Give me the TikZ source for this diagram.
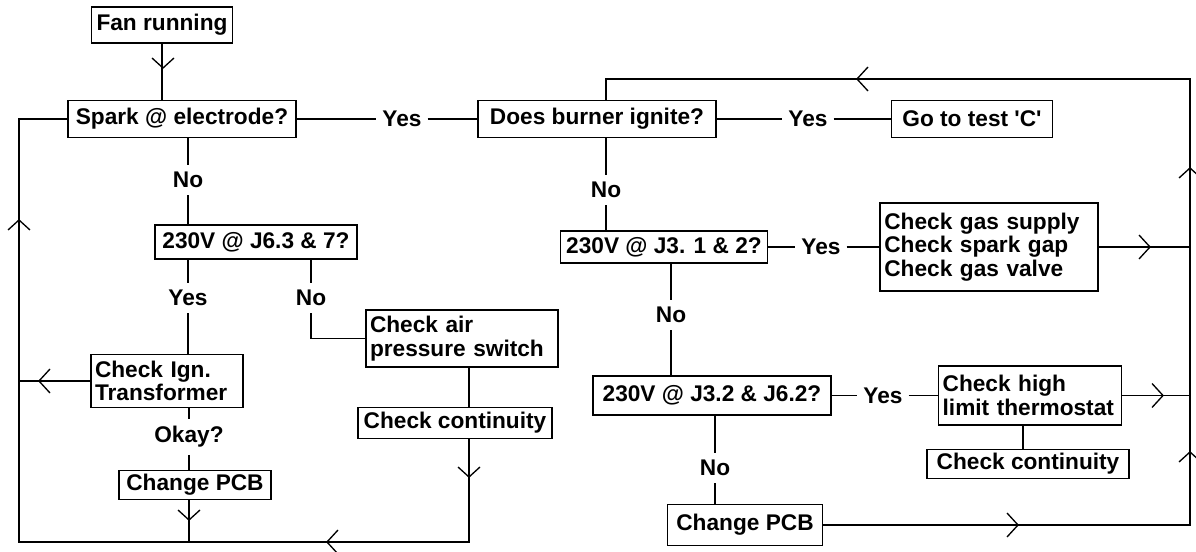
\documentclass[tikz,border=0pt]{standalone}
\usepackage{fontspec}
\setmainfont{Liberation Sans}[Ligatures=TeXOff]
\begin{document}
\begin{tikzpicture}[x=0.75pt,y=-0.75pt,line width=1pt,
  txt/.style={font=\bfseries\fontsize{17}{17.5}\selectfont},
  box/.style 2 args={draw,txt,inner sep=0pt,minimum width=#1*0.75pt,minimum height=#2*0.75pt},
  lbl/.style={txt,inner xsep=4pt,inner ysep=5pt},
  chevD/.pic={\draw (-11,-10) -- (0,0) -- (11,-10);},
  chevU/.pic={\draw (-11,10) -- (0,0) -- (11,10);},
  chevL/.pic={\draw (11,-12) -- (0,0) -- (11,12);},
  chevR/.pic={\draw (-11,-12) -- (0,0) -- (-11,12);}]
\fill[white] (0,0) rectangle (1196,552);
\useasboundingbox (0,0) rectangle (1196,552);

% boxes
\node[box={141}{36}] (fan) at (162,25) {Fan running};
\node[box={228}{37}] (spark) at (182,119) {Spark @ electrode?};
\node[box={202}{34}] (j63) at (256,242) {230V @ J6.3 \& 7?};
\node[box={152}{53},text width=108pt,align=left] (ign) at (167,381) {Check Ign.\\Transformer};
\node[box={152}{29}] (pcb1) at (195,485) {Change PCB};
\node[box={192}{57},text width=138pt,align=left] (air) at (462,338.5) {Check air\\pressure switch};
\node[box={194}{31}] (cont1) at (455,423) {Check continuity};
\node[box={238}{37}] (burner) at (597,119) {Does burner ignite?};
\node[box={161}{37}] (goto) at (972,119) {Go to test 'C'};
\node[box={207}{32}] (j31) at (664,247) {230V @ J3. 1 \& 2?};
\node[box={218}{88},text width=157pt,align=left] (gas) at (989,247) {Check gas supply\\Check spark gap\\Check gas valve};
\node[box={238}{39}] (j32) at (712,395.5) {230V @ J3.2 \& J6.2?};
\node[box={183}{59},text width=131pt,align=left] (high) at (1030,395.5) {Check high\\limit thermostat};
\node[box={202}{29}] (cont2) at (1028,464) {Check continuity};
\node[box={155}{41}] (pcb2) at (745,525) {Change PCB};

% labels
\node[lbl] (no1) at (188,180) {No};
\node[lbl] (yes2) at (188,298) {Yes};
\node[lbl] (no2) at (311,298) {No};
\node[lbl] (okay) at (189,437) {Okay?};
\node[lbl] (yes1) at (402,119) {Yes};
\node[lbl] (yes3) at (808,119) {Yes};
\node[lbl] (no3) at (606,190) {No};
\node[lbl] (yes4) at (821,247) {Yes};
\node[lbl] (no4) at (671,315) {No};
\node[lbl] (yes5) at (883,395.5) {Yes};
\node[lbl] (no5) at (715,468) {No};

% helper coordinates
\coordinate (Lx) at (19,0);
\coordinate (Rx) at (1190,0);
\coordinate (Cx) at (469,0);
\coordinate (Hx) at (1023,0);
\coordinate (Bot) at (0,542);
\coordinate (Top) at (0,79);

% connectors, left part
\draw (fan.south) -- (fan.south |- spark.north);
\draw (spark.west) -- (spark.west -| Lx) -- (Lx |- Bot) -- (Cx |- Bot) -- (cont1.south -| Cx);
\draw (air.south -| Cx) -- (cont1.north -| Cx);
\draw (ign.west) -- (ign.west -| Lx);
\draw (spark.south -| no1) -- (no1) -- (j63.north -| no1);
\draw (j63.south -| yes2) -- (yes2) -- (ign.north -| yes2);
\draw (j63.south -| no2) -- (no2) -- (no2 |- air.west) -- (air.west);
\draw (ign.south -| okay) -- (okay) -- (pcb1.north -| okay);
\draw (pcb1.south -| okay) -- (okay |- Bot);

% connectors, right part
\draw (spark.east) -- (yes1) -- (burner.west);
\draw (burner.east) -- (yes3) -- (goto.west);
\draw (burner.south -| no3) -- (no3) -- (j31.north -| no3);
\draw (burner.north -| no3) -- (no3 |- Top) -- (Rx |- Top) -- (Rx |- pcb2.east) -- (pcb2.east);
\draw (j31.east) -- (yes4) -- (gas.west);
\draw (gas.east) -- (gas.east -| Rx);
\draw (j31.south -| no4) -- (no4) -- (j32.north -| no4);
\draw (j32.east) -- (yes5) -- (high.west);
\draw (high.east) -- (high.east -| Rx);
\draw (high.south -| Hx) -- (cont2.north -| Hx);
\draw (j32.south -| no5) -- (no5) -- (pcb2.north -| no5);

% open arrowheads
\pic at (163,68) {chevD};
\pic at (19,220) {chevU};
\pic at (39,381) {chevL};
\pic at (189,520) {chevD};
\pic at (469,477) {chevD};
\pic at (327,542) {chevL};
\pic at (857,79) {chevL};
\pic at (1190,168) {chevU};
\pic at (1150,247) {chevR};
\pic at (1163,395.5) {chevR};
\pic at (1190,452) {chevU};
\pic at (1018,525) {chevR};
\end{tikzpicture}
\end{document}
